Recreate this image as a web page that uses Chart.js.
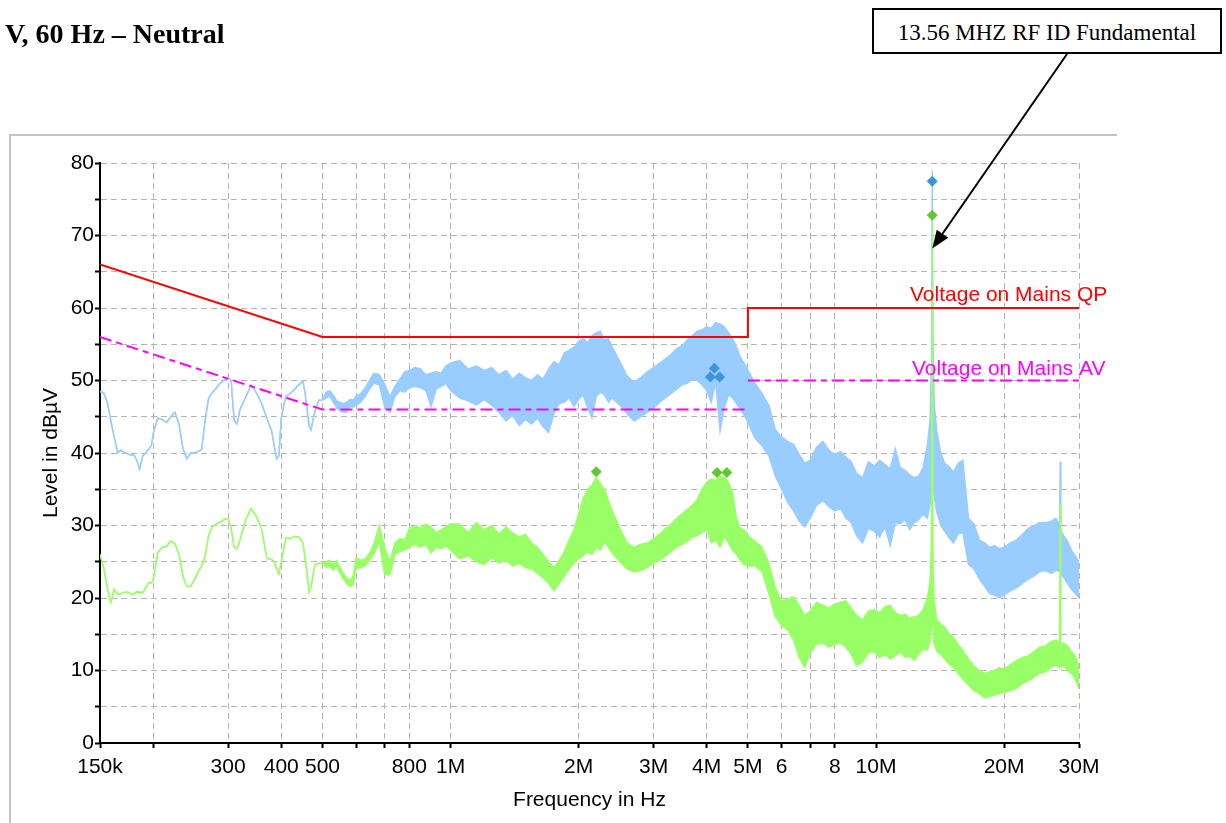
<!DOCTYPE html>
<html>
<head>
<meta charset="utf-8">
<title>Conducted emissions - Neutral</title>
<script src="https://cdn.jsdelivr.net/npm/chart.js@4.4.0/dist/chart.umd.min.js"></script>
<style>
  html, body { margin: 0; padding: 0; background: #fff; }
  body { width: 1226px; height: 823px; position: relative; overflow: hidden; }
  #frame { position: absolute; left: 9px; top: 134px; width: 1106px; height: 720px;
           border-top: 2px solid #c4c4c4; border-left: 2px solid #c4c4c4; }
  #wrap { position: absolute; left: 0; top: 0; width: 1226px; height: 823px; }
  #heading { position: absolute; left: 5px; top: 20px; white-space: nowrap; color: #000;
             font: bold 28px/28px "Liberation Serif", "Times New Roman", serif; }
  #callout { position: absolute; left: 872px; top: 8px; width: 350px; height: 46px;
             box-sizing: border-box; border: 2px solid #000; background: #fff;
             padding-top: 4px; text-align: center; white-space: nowrap;
             font: 23px/38px "Liberation Serif", "Times New Roman", serif; }
</style>
</head>
<body>
<div id="frame"></div>
<div id="wrap"><canvas id="emiChart"></canvas></div>
<div id="heading">V, 60 Hz – Neutral</div>
<div id="callout">13.56 MHZ RF ID Fundamental</div>
<script>
// scan frequencies (MHz) shared by both detector traces
const freqMHz = [
  0.150,0.153,0.156,0.159,0.162,0.165,0.168,0.171,0.174,0.177,
  0.180,0.183,0.186,0.189,0.192,0.195,0.198,0.200,0.205,0.210,
  0.215,0.220,0.225,0.230,0.235,0.240,0.245,0.250,0.255,0.260,
  0.265,0.270,0.275,0.280,0.285,0.290,0.295,0.300,0.305,0.310,
  0.315,0.320,0.330,0.340,0.350,0.360,0.370,0.380,0.385,0.390,
  0.395,0.400,0.410,0.420,0.430,0.440,0.450,0.455,0.460,0.465,
  0.470,0.480,0.490,0.500,
  0.51,0.52,0.53,0.54,0.55,0.56,0.57,0.58,0.59,0.60,
  0.615,0.63,0.645,0.66,0.68,0.70,0.72,0.74,0.76,0.78,
  0.80,0.825,0.85,0.875,0.90,0.925,0.95,0.975,1.0,
  1.05,1.1,1.15,1.2,1.25,1.3,1.35,1.4,1.45,1.5,
  1.55,1.6,1.65,1.7,1.75,1.8,1.85,1.9,1.95,2.0,
  2.05,2.1,2.15,2.2,2.25,2.3,2.35,2.4,2.5,2.6,
  2.7,2.8,2.9,3.0,3.1,3.2,3.3,3.4,3.5,3.6,
  3.7,3.8,3.9,4.0,4.1,4.2,4.3,4.4,4.5,4.6,
  4.7,4.8,4.9,5.0,
  5.2,5.4,5.6,5.8,6.0,6.2,6.4,6.6,6.8,7.0,
  7.25,7.5,7.75,8.0,8.25,8.5,8.75,9.0,9.3,9.6,
  9.9,10.2,10.5,10.8,11.1,11.4,11.7,12.0,12.3,12.6,
  12.9,13.2,13.4,13.5,13.56,13.62,13.7,13.9,14.2,14.5,
  14.8,15.2,15.6,16.0,16.5,17.0,17.5,18.0,18.5,19.0,
  19.5,20.0,20.7,21.4,22.1,22.8,23.5,24.2,25.0,25.8,
  26.5,27.0,27.1,27.2,27.6,28.2,28.8,29.4,30.0
];

// peak trace (light blue): upper and lower edge of the band, dBµV
const peakHi = [
  48.5,48.3,47.0,44.5,42.2,40.0,40.4,40.1,39.9,39.7,
  39.8,39.0,37.8,39.6,40.0,40.5,41.0,42.6,44.8,44.6,
  44.2,45.0,45.6,44.0,40.6,39.2,40.0,40.0,40.2,40.5,
  44.5,47.6,48.3,48.8,49.4,49.8,50.1,50.4,50.0,44.5,
  44.0,46.0,47.7,49.4,48.3,46.8,44.8,43.0,41.0,39.2,
  39.6,44.8,47.8,48.2,48.8,49.4,49.9,48.3,46.0,43.8,
  43.2,45.8,47.3,47.3,
  48.4,48.6,48.0,47.2,47.0,46.8,47.0,47.4,47.3,47.8,
  48.2,49.0,50.0,51.0,50.8,49.5,47.8,49.2,50.2,51.2,
  51.4,51.8,51.6,50.8,51.0,51.2,51.0,52.0,52.4,
  52.8,51.6,52.0,51.4,51.8,50.8,51.4,50.2,51.0,50.4,
  50.0,50.8,50.2,51.6,52.6,52.2,53.8,54.2,54.6,55.4,
  55.8,55.2,56.2,56.6,56.8,55.6,55.8,54.6,52.6,50.6,
  49.8,50.4,51.2,51.8,52.4,53.0,53.6,54.4,54.8,55.6,
  56.2,56.8,57.0,57.4,57.2,58.0,57.8,57.4,56.6,55.8,
  54.6,53.2,52.4,51.4,
  49.6,48.2,46.6,43.2,42.2,41.6,41.2,39.8,38.6,39.0,
  40.8,41.6,40.4,39.8,40.2,39.4,38.8,37.2,36.6,38.8,
  38.2,39.0,38.4,37.8,40.6,38.0,37.6,37.0,36.6,36.8,
  38.0,41.0,44.6,53.0,79.0,55.0,46.8,43.0,40.0,38.6,
  38.2,37.4,38.6,39.0,31.0,30.2,28.0,27.6,27.0,27.2,
  26.8,27.0,27.6,28.0,28.8,29.6,30.0,30.4,30.4,30.6,
  31.0,30.0,38.8,29.4,28.6,27.8,26.6,25.8,25.0
];
const peakLo = [
  48.5,48.3,47.0,44.5,42.2,40.0,40.4,40.1,39.9,39.7,
  39.8,39.0,37.8,39.6,40.0,40.5,41.0,42.6,44.8,44.6,
  44.2,45.0,45.6,44.0,40.6,39.2,40.0,40.0,40.2,40.5,
  44.5,47.6,48.3,48.8,49.4,49.8,50.1,50.4,50.0,44.5,
  44.0,46.0,47.7,49.4,48.3,46.8,44.8,43.0,41.0,39.2,
  39.6,44.8,47.8,48.2,48.8,49.4,49.9,48.3,46.0,43.8,
  43.2,45.8,47.3,47.3,
  47.6,47.8,47.0,46.2,45.8,45.6,45.6,46.4,46.3,46.6,
  47.0,47.8,48.8,49.6,49.4,46.4,45.6,47.8,48.6,48.4,
  49.0,49.2,49.0,48.6,46.4,48.8,49.2,49.6,48.6,
  47.6,47.2,46.6,47.4,46.6,45.6,44.4,45.2,43.8,44.6,
  44.0,44.8,43.6,42.8,45.4,46.8,47.0,47.6,46.4,47.4,
  48.0,46.2,44.8,47.8,48.4,48.0,47.0,47.6,46.6,45.4,
  44.4,45.0,45.6,46.2,47.0,47.6,48.2,48.8,49.4,49.6,
  50.2,50.0,49.4,48.6,47.0,49.8,43.0,46.2,48.0,47.6,
  46.8,46.0,45.2,44.2,
  42.0,41.0,39.6,36.8,35.0,33.2,32.0,30.6,29.8,31.0,
  32.8,33.4,32.6,32.0,32.4,31.0,30.4,28.6,27.6,29.6,
  29.2,28.4,29.8,27.2,30.4,30.2,30.8,29.4,30.4,30.8,
  31.6,31.0,32.8,36.0,44.0,38.0,34.0,31.8,30.0,29.2,
  28.4,27.6,28.8,29.0,24.6,24.0,22.6,21.6,20.6,20.4,
  20.0,20.4,21.0,21.4,22.0,22.6,23.0,23.6,23.8,23.4,
  23.8,23.6,24.0,23.6,22.8,22.0,21.2,20.6,20.0
];

// average trace (green): upper and lower edge of the band, dBµV
const avgHi = [
  26.0,24.2,21.5,19.4,21.2,20.5,20.6,20.8,20.8,20.6,
  20.5,20.9,20.8,20.7,21.4,22.1,22.1,22.5,26.2,27.0,
  27.1,27.9,27.5,26.0,23.0,21.6,21.6,22.5,23.6,24.4,
  25.8,28.6,29.8,30.1,30.4,30.6,30.9,31.0,29.6,27.0,
  26.8,28.0,30.8,32.4,31.2,29.4,25.5,25.3,25.0,24.0,
  23.3,25.0,28.3,28.2,28.5,28.4,27.6,25.5,23.5,20.8,
  21.5,24.6,24.8,24.8,
  25.0,25.2,24.6,25.2,24.2,23.4,22.8,22.4,23.0,25.6,
  25.2,25.4,26.2,27.4,30.0,27.0,25.0,27.6,28.2,28.0,
  29.6,30.0,29.6,30.2,29.8,29.0,29.4,29.8,30.2,
  30.2,29.0,30.4,29.4,30.0,28.8,29.8,29.0,28.4,28.8,
  27.6,27.0,26.0,25.0,24.2,25.2,26.4,28.0,29.4,31.6,
  33.8,35.0,35.6,36.6,35.8,35.0,33.4,32.0,29.6,27.6,
  27.0,27.4,27.6,28.2,28.8,29.6,30.2,31.0,31.6,32.2,
  32.8,33.6,35.0,36.0,36.4,36.2,36.8,36.6,36.0,34.6,
  31.0,29.6,29.4,28.6,
  27.8,27.0,24.8,21.4,19.6,19.8,20.2,19.0,17.6,18.2,
  19.4,19.0,18.6,19.2,19.4,19.6,18.6,17.6,17.0,18.2,
  18.4,18.0,18.8,19.0,18.0,17.6,17.8,17.2,17.4,17.6,
  18.4,20.0,22.4,28.0,73.0,24.0,19.6,17.0,16.4,16.0,
  15.2,14.6,13.6,12.8,11.6,10.6,10.0,9.6,9.8,10.0,
  10.4,10.2,10.8,11.4,11.8,12.0,12.6,13.2,13.4,14.0,
  14.2,13.8,33.0,13.6,13.8,13.4,12.6,12.0,10.6
];
const avgLo = [
  26.0,24.2,21.5,19.4,21.2,20.5,20.6,20.8,20.8,20.6,
  20.5,20.9,20.8,20.7,21.4,22.1,22.1,22.5,26.2,27.0,
  27.1,27.9,27.5,26.0,23.0,21.6,21.6,22.5,23.6,24.4,
  25.8,28.6,29.8,30.1,30.4,30.6,30.9,31.0,29.6,27.0,
  26.8,28.0,30.8,32.4,31.2,29.4,25.5,25.3,25.0,24.0,
  23.3,25.0,28.3,28.2,28.5,28.4,27.6,25.5,23.5,20.8,
  21.5,24.6,24.8,24.8,
  24.2,24.4,23.8,24.4,23.4,22.6,22.0,21.6,21.8,24.0,
  24.2,24.4,25.2,26.0,27.8,23.2,23.2,26.0,26.4,26.6,
  27.0,27.4,27.0,27.4,26.2,27.0,26.8,27.2,26.6,
  25.4,25.8,25.0,24.6,25.6,24.8,25.2,24.4,24.8,24.2,
  24.0,23.4,22.8,22.0,21.0,22.0,23.0,24.0,24.8,25.4,
  25.8,26.4,26.0,27.0,26.6,27.8,27.0,26.2,25.0,24.0,
  23.6,23.8,24.2,24.8,25.2,25.8,26.4,27.0,27.4,27.8,
  28.4,28.6,29.0,29.4,27.6,28.0,27.0,28.4,27.6,26.6,
  26.0,25.2,24.6,24.4,
  24.4,23.6,20.6,17.4,16.2,15.6,14.2,11.8,10.4,12.4,
  13.6,13.8,13.2,13.6,13.8,13.2,12.2,10.6,11.2,12.4,
  12.6,11.8,12.2,11.6,12.0,12.6,11.8,12.0,11.4,12.2,
  13.0,12.8,14.0,16.0,20.0,15.0,13.6,12.6,12.2,11.6,
  11.0,10.4,9.6,8.8,8.0,7.2,6.8,6.2,6.4,6.6,
  6.8,7.0,7.2,7.6,8.2,8.6,9.0,9.6,9.8,10.4,
  10.8,10.4,11.0,10.6,10.6,10.0,9.6,8.8,7.4
];

// limit lines
const qpLimitFreq = [0.15, 0.5, 5, 5, 30];
const qpLimitLevel = [66, 56, 56, 60, 60];
const avLimitFreq = [0.15, 0.5, 5, 5, 5, 30];
const avLimitLevel = [56, 46, 46, null, 50, 50];

// final measurement markers
const qpMarkFreq = [4.08, 4.17, 4.29, 13.56];
const qpMarkLevel = [50.5, 51.7, 50.5, 77.5];
const avMarkFreq = [2.2, 4.23, 4.46, 13.56];
const avMarkLevel = [37.4, 37.3, 37.3, 72.8];

// axes
const xTickValues = [0.15, 0.2, 0.3, 0.4, 0.5, 0.6, 0.7, 0.8, 1, 2, 3, 4, 5, 6, 7, 8, 10, 20, 30];
const xTickLabels = ['150k', '', '300', '400', '500', '', '', '800', '1M', '2M', '3M', '4M', '5M', '6', '', '8', '10M', '20M', '30M'];
const yTickValues = [0, 5, 10, 15, 20, 25, 30, 35, 40, 45, 50, 55, 60, 65, 70, 75, 80];

// callout arrow points at the RFID carrier
const calloutFreq = 13.56;
const calloutLevel = 68.2;

const xy = (xs, ys) => xs.map((f, i) => ({ x: f, y: ys[i] }));

// limit names + callout arrow
const limitLabels = {
  id: 'limitLabels',
  afterDraw(chart) {
    const { ctx, scales: { x, y } } = chart;
    ctx.save();
    ctx.font = '21px "Liberation Sans", Arial, sans-serif';
    ctx.textAlign = 'left';
    ctx.textBaseline = 'alphabetic';
    ctx.fillStyle = '#ff0000';
    ctx.fillText('Voltage on Mains QP', 910, y.getPixelForValue(60) - 7);
    ctx.fillStyle = '#ff00ff';
    ctx.fillText('Voltage on Mains AV', 912, y.getPixelForValue(50) - 6);

    const tx = x.getPixelForValue(calloutFreq);
    const ty = y.getPixelForValue(calloutLevel);
    const sx = 1067, sy = 54;
    const ang = Math.atan2(ty - sy, tx - sx);
    const len = 18, half = 7;
    const bx = tx - len * Math.cos(ang);
    const by = ty - len * Math.sin(ang);
    ctx.strokeStyle = '#000';
    ctx.lineWidth = 2;
    ctx.beginPath();
    ctx.moveTo(sx, sy);
    ctx.lineTo(bx, by);
    ctx.stroke();
    ctx.fillStyle = '#000';
    ctx.beginPath();
    ctx.moveTo(tx, ty);
    ctx.lineTo(bx + half * Math.sin(ang), by - half * Math.cos(ang));
    ctx.lineTo(bx - half * Math.sin(ang), by + half * Math.cos(ang));
    ctx.closePath();
    ctx.fill();
    ctx.restore();
  }
};

Chart.defaults.font.family = '"Liberation Sans", Arial, sans-serif';
Chart.defaults.color = '#000';

const gridOpts = { color: '#b4b4b4', lineWidth: 1, tickColor: '#000', tickLength: 5, tickWidth: 2, tickBorderDash: [] };
const borderOpts = { color: '#000', width: 2, dash: [6, 4] };

const ctx = document.getElementById('emiChart').getContext('2d');
const emiChart = new Chart(ctx, {
  type: 'line',
  data: {
    datasets: [
      {
        label: 'QP final',
        data: xy(qpMarkFreq, qpMarkLevel),
        showLine: false,
        pointStyle: 'rectRot',
        pointRadius: 5.5,
        pointBorderWidth: 0,
        pointBackgroundColor: '#3d95d9',
      },
      {
        label: 'AV final',
        data: xy(avMarkFreq, avMarkLevel),
        showLine: false,
        pointStyle: 'rectRot',
        pointRadius: 5.5,
        pointBorderWidth: 0,
        pointBackgroundColor: '#5ec731',
      },
      {
        label: 'Voltage on Mains QP',
        data: xy(qpLimitFreq, qpLimitLevel),
        borderColor: '#ff0000',
        borderWidth: 2,
        pointRadius: 0,
        fill: false,
      },
      {
        label: 'Voltage on Mains AV',
        data: xy(avLimitFreq, avLimitLevel),
        borderColor: '#ff00ff',
        borderWidth: 2,
        borderDash: [12, 5, 6, 5],
        pointRadius: 0,
        fill: false,
      },
      {
        label: 'AV max',
        data: xy(freqMHz, avgHi),
        borderColor: '#99ff66',
        backgroundColor: '#99ff66',
        borderWidth: 1.4,
        pointRadius: 0,
        fill: '+1',
      },
      {
        label: 'AV min',
        data: xy(freqMHz, avgLo),
        borderColor: '#99ff66',
        borderWidth: 1.4,
        pointRadius: 0,
        fill: false,
      },
      {
        label: 'Peak max',
        data: xy(freqMHz, peakHi),
        borderColor: '#99ccff',
        backgroundColor: '#99ccff',
        borderWidth: 1.4,
        pointRadius: 0,
        fill: '+1',
      },
      {
        label: 'Peak min',
        data: xy(freqMHz, peakLo),
        borderColor: '#99ccff',
        borderWidth: 1.4,
        pointRadius: 0,
        fill: false,
      },
    ],
  },
  options: {
    responsive: true,
    maintainAspectRatio: false,
    animation: false,
    events: [],
    layout: { padding: { left: 20, right: 147, top: 163, bottom: 10 } },
    elements: { line: { tension: 0 } },
    plugins: {
      legend: { display: false },
      tooltip: { enabled: false },
    },
    scales: {
      x: {
        type: 'logarithmic',
        min: 0.15,
        max: 30,
        afterBuildTicks: (s) => { s.ticks = xTickValues.map((v) => ({ value: v })); },
        afterFit: (s) => { s.height = 70; },
        ticks: {
          autoSkip: false,
          maxRotation: 0,
          minRotation: 0,
          padding: 7,
          color: '#000',
          font: { size: 21 },
          callback: (v, i) => xTickLabels[i],
        },
        grid: gridOpts,
        border: borderOpts,
        title: { display: true, text: 'Frequency in Hz', color: '#000', font: { size: 21 }, padding: { top: 0, bottom: 0 } },
      },
      y: {
        type: 'linear',
        min: 0,
        max: 80,
        afterBuildTicks: (s) => { s.ticks = yTickValues.map((v) => ({ value: v })); },
        afterFit: (s) => { s.width = 80; },
        ticks: {
          autoSkip: false,
          padding: 1,
          color: '#000',
          font: { size: 21 },
          callback: (v) => (v % 10 === 0 ? String(v) : ''),
        },
        grid: gridOpts,
        border: borderOpts,
        title: { display: true, text: 'Level in dBµV', color: '#000', font: { size: 21 }, padding: { top: 19, bottom: 0 } },
      },
    },
  },
  plugins: [limitLabels],
});
</script>
</body>
</html>
